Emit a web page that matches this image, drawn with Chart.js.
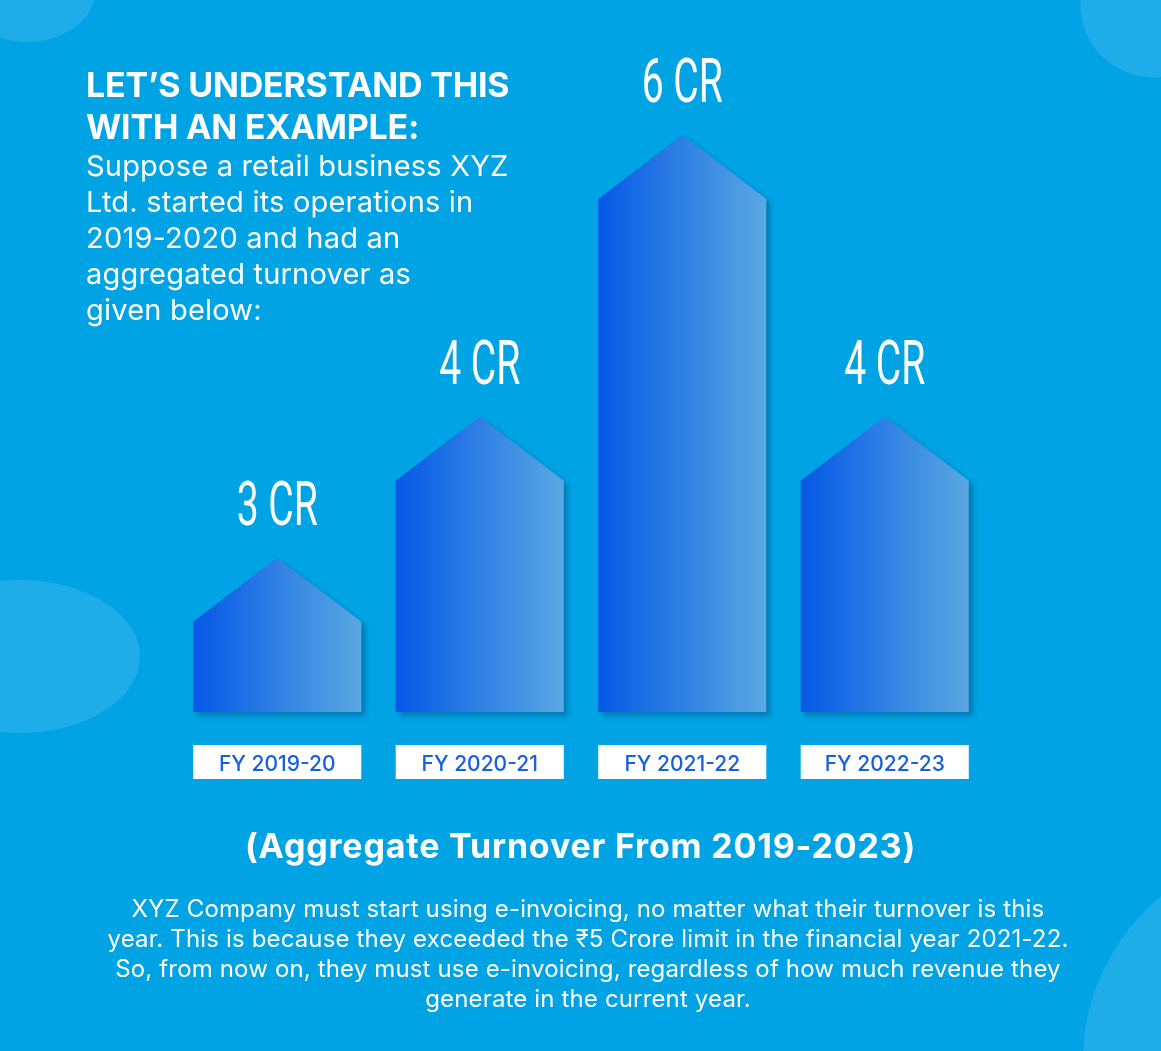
<!DOCTYPE html>
<html>
<head>
<meta charset="utf-8">
<script src="https://cdn.jsdelivr.net/npm/chart.js@4.4.1/dist/chart.umd.min.js"></script>
<style>
  html, body { margin: 0; padding: 0; }
  body {
    width: 1161px; height: 1051px; position: relative; overflow: hidden;
    background: #00a3e3; color: #fff; font-family: "Inter", sans-serif;
  }
  .blob { position: absolute; background: #1eade8; border-radius: 50%; }
  #wrap { position: absolute; left: 0; top: 0; width: 1161px; height: 1051px; }
  .txt { position: absolute; white-space: nowrap; }
  #titulo { left: 86px; top: 64px; font-size: 34px; line-height: 42px; font-weight: 700; letter-spacing: -0.2px; }
  #intro { left: 86px; top: 148px; font-size: 29px; line-height: 36px; font-weight: 400; letter-spacing: 0.2px; }
  #legenda { left: 0; width: 1161px; text-align: center; top: 826px; font-size: 34px; line-height: 40px; font-weight: 700; letter-spacing: 0.8px; }
  #nota { left: 0; width: 1176px; text-align: center; top: 894px; font-size: 24px; line-height: 30px; font-weight: 400; letter-spacing: 0.15px; }
</style>
</head>
<body>
  <div class="blob" style="left:-40px;top:-60px;width:135px;height:102px;"></div>
  <div class="blob" style="left:1080px;top:-70px;width:150px;height:147px;transform:rotate(-30deg);"></div>
  <div class="blob" style="left:-100px;top:580px;width:240px;height:153px;"></div>
  <div class="blob" style="left:1098px;top:855px;width:200px;height:300px;transform:rotate(30deg);"></div>

  <div id="wrap"><canvas id="grafico" width="1161" height="1051"></canvas></div>

  <div class="txt" id="titulo">LET’S UNDERSTAND THIS<br>WITH AN EXAMPLE:</div>
  <div class="txt" id="intro">Suppose a retail business XYZ<br>Ltd. started its operations in<br>2019-2020 and had an<br>aggregated turnover as<br>given below:</div>
  <div class="txt" id="legenda">(Aggregate Turnover From 2019-2023)</div>
  <div class="txt" id="nota">XYZ Company must start using e-invoicing, no matter what their turnover is this<br>year. This is because they exceeded the ₹5 Crore limit in the financial year 2021-22.<br>So, from now on, they must use e-invoicing, regardless of how much revenue they<br>generate in the current year.</div>

<script>
// dados do gráfico
const categorias = ["FY 2019-20", "FY 2020-21", "FY 2021-22", "FY 2022-23"];
const turnover = [3, 4, 6, 4];
const rotulos = ["3 CR", "4 CR", "6 CR", "4 CR"];

const eixoMin = 2.36;
const eixoMax = 7;

// desenha as barras em formato de casinha + caixas brancas dos rótulos
const casinhas = {
  id: "casinhas",
  beforeDraw(chart) {
    const ctx = chart.ctx;
    const meta = chart.getDatasetMeta(0);
    ctx.save();
    ctx.fillStyle = "#ffffff";
    meta.data.forEach((bar) => {
      ctx.fillRect(bar.x - bar.width / 2, chart.chartArea.bottom + 33, bar.width, 34);
    });
    ctx.restore();
  },
  beforeDatasetsDraw(chart) {
    const ctx = chart.ctx;
    const meta = chart.getDatasetMeta(0);
    const telhado = 64;
    meta.data.forEach((bar, i) => {
      const esq = bar.x - bar.width / 2;
      const dir = bar.x + bar.width / 2;
      const grad = ctx.createLinearGradient(esq, 0, dir, 0);
      grad.addColorStop(0, "#0558e6");
      grad.addColorStop(1, "#5aa8e2");

      ctx.save();
      ctx.shadowColor = "rgba(0, 45, 100, 0.35)";
      ctx.shadowOffsetX = 4;
      ctx.shadowOffsetY = 4;
      ctx.shadowBlur = 5;
      ctx.fillStyle = grad;
      ctx.beginPath();
      ctx.moveTo(esq, bar.base);
      ctx.lineTo(esq, bar.y);
      ctx.lineTo(bar.x, bar.y - telhado);
      ctx.lineTo(dir, bar.y);
      ctx.lineTo(dir, bar.base);
      ctx.closePath();
      ctx.fill();
      ctx.restore();

      // rótulo do valor (fonte condensada)
      ctx.save();
      ctx.fillStyle = "#ffffff";
      ctx.font = "400 62px Roboto";
      ctx.textAlign = "center";
      ctx.textBaseline = "alphabetic";
      ctx.translate(bar.x, bar.y - telhado - 33);
      ctx.scale(0.63, 1);
      ctx.fillText(rotulos[i], 0, 0);
      ctx.restore();
    });
    return false;
  },
};

new Chart(document.getElementById("grafico"), {
  type: "bar",
  data: {
    labels: categorias,
    datasets: [
      {
        label: "Turnover (Cr)",
        data: turnover,
        base: eixoMin,
        backgroundColor: "transparent",
        barPercentage: 0.83,
        categoryPercentage: 1,
      },
    ],
  },
  options: {
    responsive: false,
    animation: false,
    layout: { padding: { left: 176, right: 175, top: 58, bottom: 259 } },
    plugins: { legend: { display: false }, tooltip: { enabled: false } },
    scales: {
      y: { display: false, min: eixoMin, max: eixoMax },
      x: {
        grid: { display: false },
        border: { display: false },
        afterFit: (scale) => { scale.height = 80; },
        ticks: {
          color: "#1760e0",
          padding: 32,
          font: { family: "Inter", size: 21, weight: 500 },
        },
      },
    },
  },
  plugins: [casinhas],
});
</script>
</body>
</html>
